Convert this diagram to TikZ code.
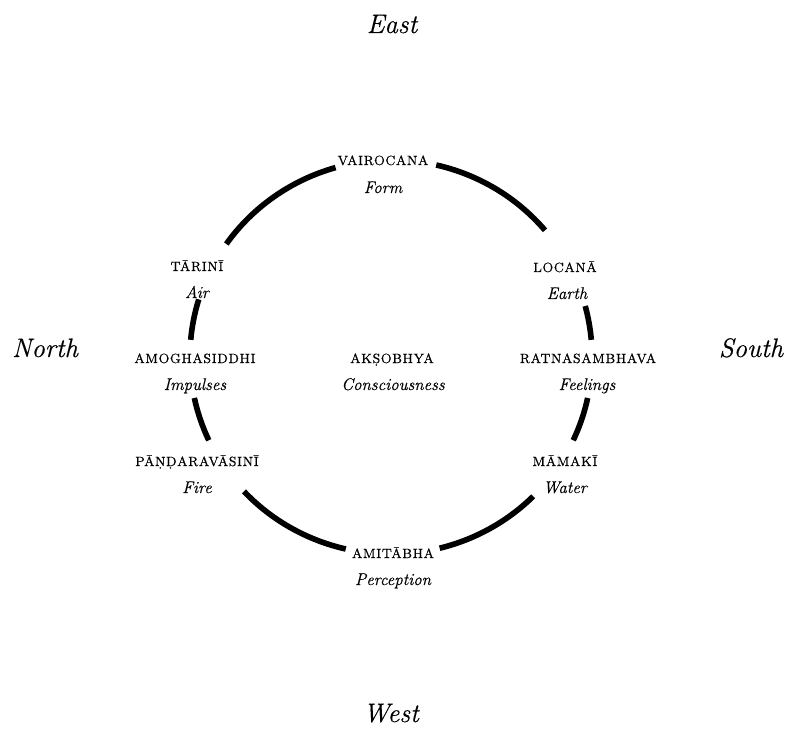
\documentclass[tikz,border=0pt]{standalone}
\usepackage{fontspec}
\usepackage{tikz}
\usetikzlibrary{calc}
\newfontfamily\capsfont{Latin Modern Roman}[LetterSpace=5, FakeBold=0.6]
\newfontfamily\itfont{Latin Modern Roman}[FakeBold=0.4]
% dotted capital: the font's own glyph when it has one
\newcommand\subdot[2]{\iffontchar\font`#2 #2\else\raisebox{0pt}[\height][0pt]{\oalign{#1\crcr\hidewidth.\hidewidth}}\fi}
\def\rx{5.025cm}
\def\ry{4.925cm}
\tikzset{
  ring/.style={line width=4pt},
  deity/.style={font=\capsfont\fontsize{9.5}{11}\selectfont, anchor=base, inner sep=0pt},
  aspect/.style={font=\itfont\large\itshape, anchor=base, inner sep=0pt},
  quarter/.style={font=\itfont\fontsize{19}{21}\selectfont\itshape, anchor=base, inner sep=0pt}
}
\begin{document}
\begin{tikzpicture}[x=0.025cm, y=0.025cm]
			\useasboundingbox (0,0) rectangle (786,731);
			\coordinate (ctr) at (391,374);
			% quarters
			\node[quarter] (east) at (392,698) {East};
			\node[quarter] (north) at (45,374) {North};
			\node[quarter] (south) at (751,374) {South};
			\node[quarter] (west) at (391,9) {West};
			% circle, broken at each name
			\foreach \a/\b in {106/145, 163/175, 192/205, 223/257, 284/315, 335/348, 5/15, 40/77}{
				\draw[ring] ([shift={(\a:{\rx} and {\ry})}]ctr) arc[start angle=\a, end angle=\b, x radius=\rx, y radius=\ry];
			}
			% names and aggregates
			\node[deity] (vairocana) at (383,566) {VAIROCANA};
			\node[aspect] (form) at (383,538) {Form};
			\node[deity] (tarini) at (197,460) {TĀRINĪ};
			\node[aspect] (air) at (197,433) {Air};
			\node[deity] (locana) at (565,459) {LOCANĀ};
			\node[aspect] (earth) at (567,432) {Earth};
			\node[deity] (amogha) at (195,368) {AMOGHASIDDHI};
			\node[aspect] (impulses) at (195,341) {Impulses};
			\node[deity] (aksobhya) at (392,368) {AK\subdot{S}{Ṣ}OBHYA};
			\node[aspect] (conscious) at (393,341) {Consciousness};
			\node[deity] (ratna) at (588,368) {RATNASAMBHAVA};
			\node[aspect] (feelings) at (587,341) {Feelings};
			\node[deity] (pandara) at (197,265) {PĀ\subdot{N}{Ṇ}\subdot{D}{Ḍ}ARAVĀSINĪ};
			\node[aspect] (fire) at (197,238) {Fire};
			\node[deity] (mamaki) at (565,265) {MĀMAKĪ};
			\node[aspect] (water) at (565,238) {Water};
			\node[deity] (amitabha) at (393,173) {AMITĀBHA};
			\node[aspect] (perception) at (393,146) {Perception};
		\end{tikzpicture}
\end{document}
